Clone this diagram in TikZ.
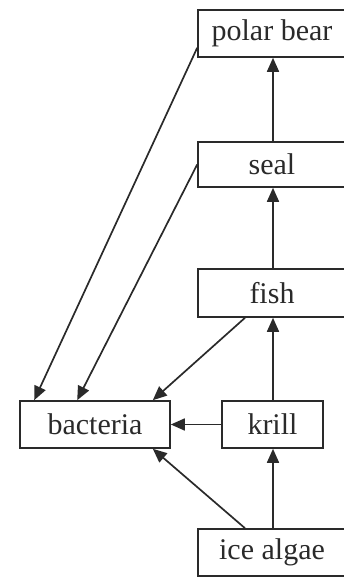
\documentclass[tikz,border=0pt]{standalone}
\usepackage{fontspec}
\setmainfont{Liberation Serif}
\usetikzlibrary{arrows.meta}
\definecolor{ink}{HTML}{2A2A2A}
\begin{document}
\begin{tikzpicture}[x=1pt,y=-1pt,
  box/.style={draw=ink,line width=1.6pt,rectangle,inner sep=0pt,
    font=\fontsize{30}{36}\selectfont,text=ink},
  arr/.style={draw=ink,line width=1.7pt,-{Triangle[length=14pt,width=12pt]}}]
\useasboundingbox (0,0) rectangle (344,579);
\clip (0,0) rectangle (344,579);
\node[box,minimum width=148pt,minimum height=47pt] (pb) at (272,33.5) {polar bear};
\node[box,minimum width=148pt,minimum height=45pt] (seal) at (272,164.5) {seal};
\node[box,minimum width=148pt,minimum height=48pt] (fish) at (272,293) {fish};
\node[box,minimum width=150pt,minimum height=47pt] (bac) at (95,424.5) {bacteria};
\node[box,minimum width=101pt,minimum height=47pt] (krill) at (272.5,424.5) {krill};
\node[box,minimum width=148pt,minimum height=47pt] (ice) at (272,552.5) {ice algae};
% vertical food-chain arrows
\draw[arr] ([xshift=1pt]ice.north) -- ([xshift=0.5pt]krill.south);
\draw[arr] ([xshift=0.5pt]krill.north) -- ([xshift=1pt]fish.south);
\draw[arr] ([xshift=1pt]fish.north) -- ([xshift=1pt]seal.south);
\draw[arr] ([xshift=1pt]seal.north) -- ([xshift=1pt]pb.south);
% to bacteria
\draw[arr] ([yshift=10pt]pb.south west) -- ([xshift=15pt]bac.north west);
\draw[arr] (seal.west) -- ([xshift=58pt]bac.north west);
\draw[arr] ([xshift=-27pt]fish.south) -- ([xshift=-18pt]bac.north east);
\draw[arr] (krill.west) -- (bac.east);
\draw[arr] ([xshift=-27pt]ice.north) -- ([xshift=-18pt]bac.south east);
\end{tikzpicture}
\end{document}
